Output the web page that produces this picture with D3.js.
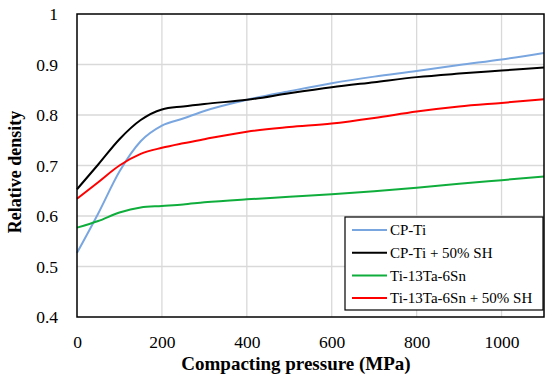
<!DOCTYPE html>
<html>
<head>
<meta charset="utf-8">
<script src="https://cdn.jsdelivr.net/npm/d3@7"></script>
<style>
  body { margin: 0; background: #fff; }
  svg { font-family: "Liberation Serif", "DejaVu Serif", serif; }
</style>
</head>
<body>
<div id="chart"></div>
<script>
// pressure values (MPa)
const pressure = [0, 50, 100, 150, 200, 250, 300, 400, 500, 600, 700, 800, 900, 1000, 1100];

const cpTi      = [0.527, 0.605, 0.688, 0.748, 0.779, 0.793, 0.808, 0.830, 0.847, 0.863, 0.876, 0.887, 0.899, 0.910, 0.923];
const cpTiSH    = [0.653, 0.702, 0.752, 0.790, 0.811, 0.817, 0.822, 0.830, 0.843, 0.855, 0.865, 0.875, 0.882, 0.888, 0.894];
const tiTaSn    = [0.577, 0.590, 0.607, 0.617, 0.620, 0.623, 0.627, 0.633, 0.638, 0.643, 0.649, 0.656, 0.664, 0.671, 0.678];
const tiTaSnSH  = [0.634, 0.667, 0.700, 0.723, 0.735, 0.744, 0.752, 0.767, 0.776, 0.783, 0.794, 0.807, 0.817, 0.824, 0.831];

const seriesNames = ["CP-Ti", "CP-Ti + 50% SH", "Ti-13Ta-6Sn", "Ti-13Ta-6Sn + 50% SH"];
const seriesColors = ["#7aa6e0", "#000000", "#0fae3c", "#ff0000"];
const seriesValues = [cpTi, cpTiSH, tiTaSn, tiTaSnSH];

const xTicks = [0, 200, 400, 600, 800, 1000];
const yTicks = [0.4, 0.5, 0.6, 0.7, 0.8, 0.9, 1];

const width = 550, height = 379;
const margin = { top: 14, right: 6, bottom: 62, left: 77 };

const svg = d3.select("#chart").append("svg")
  .attr("width", width)
  .attr("height", height);

const x = d3.scaleLinear().domain([0, 1100]).range([margin.left, width - margin.right]);
const y = d3.scaleLinear().domain([0.4, 1]).range([height - margin.bottom, margin.top]);

// grid
svg.append("g")
  .selectAll("line")
  .data(xTicks.filter(d => d > 0))
  .join("line")
  .attr("x1", d => x(d)).attr("x2", d => x(d))
  .attr("y1", y(0.4)).attr("y2", y(1))
  .attr("stroke", "#d9d9d9").attr("stroke-width", 1.3);

svg.append("g")
  .selectAll("line")
  .data(yTicks.filter(d => d > 0.4 && d < 1))
  .join("line")
  .attr("x1", x(0)).attr("x2", x(1100))
  .attr("y1", d => y(d)).attr("y2", d => y(d))
  .attr("stroke", "#d9d9d9").attr("stroke-width", 1.3);

// lines
const line = d3.line()
  .x((d, i) => x(pressure[i]))
  .y(d => y(d))
  .curve(d3.curveMonotoneX);

seriesValues.forEach((vals, i) => {
  svg.append("path")
    .datum(vals)
    .attr("fill", "none")
    .attr("stroke", seriesColors[i])
    .attr("stroke-width", 2)
    .attr("d", line);
});

// frame
svg.append("rect")
  .attr("x", x(0)).attr("y", y(1))
  .attr("width", x(1100) - x(0))
  .attr("height", y(0.4) - y(1))
  .attr("fill", "none")
  .attr("stroke", "#000")
  .attr("stroke-width", 1.5);

// x axis
const xAxis = svg.append("g")
  .attr("transform", `translate(0, ${y(0.4)})`)
  .call(d3.axisBottom(x).tickValues(xTicks).tickSize(0).tickPadding(19).tickFormat(d3.format("d")));
xAxis.select(".domain").remove();
xAxis.selectAll("text").attr("font-size", 17.5).attr("fill", "#000")
  .attr("font-family", "Liberation Serif, serif");

// y axis
const yAxis = svg.append("g")
  .attr("transform", `translate(${x(0)}, 0)`)
  .call(d3.axisLeft(y).tickValues(yTicks).tickSize(0).tickPadding(19).tickFormat(d => d === 1 ? "1" : d3.format(".1f")(d)));
yAxis.select(".domain").remove();
yAxis.selectAll("text").attr("font-size", 17.5).attr("fill", "#000")
  .attr("font-family", "Liberation Serif, serif");

// axis titles
svg.append("text")
  .attr("x", 296)
  .attr("y", 370)
  .attr("text-anchor", "middle")
  .attr("font-size", 19)
  .attr("font-weight", "bold")
  .text("Compacting pressure (MPa)");

svg.append("text")
  .attr("transform", "translate(21, 172) rotate(-90)")
  .attr("text-anchor", "middle")
  .attr("font-size", 18)
  .attr("font-weight", "bold")
  .text("Relative density");

// legend
const lg = svg.append("g").attr("transform", "translate(345, 217)");
lg.append("rect")
  .attr("width", 198).attr("height", 93)
  .attr("fill", "#fff")
  .attr("stroke", "#000").attr("stroke-width", 1.2);

seriesNames.forEach((name, i) => {
  const row = lg.append("g").attr("transform", `translate(0, ${13 + i * 22.7})`);
  row.append("line")
    .attr("x1", 7).attr("x2", 42)
    .attr("stroke", seriesColors[i]).attr("stroke-width", 2);
  row.append("text")
    .attr("x", 45).attr("dy", "0.35em")
    .attr("font-size", 15)
    .text(name);
});
</script>
</body>
</html>
